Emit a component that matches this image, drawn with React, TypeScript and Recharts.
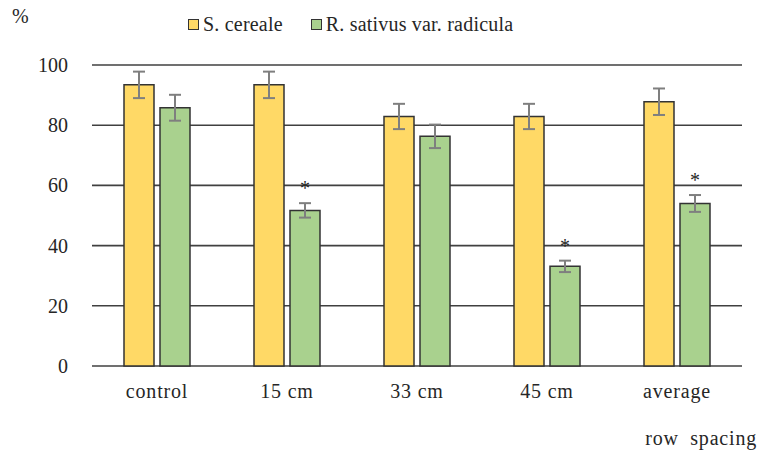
import React from 'react';
import { BarChart, Bar, XAxis, YAxis, CartesianGrid, ErrorBar, Legend, LabelList } from 'recharts';

const categories = ['control', '15 cm', '33 cm', '45 cm', 'average'];
const cerealeValues = [93.4, 93.4, 82.9, 82.9, 87.8];
const cerealeErrors = [4.4, 4.4, 4.2, 4.2, 4.4];
const sativusValues = [85.8, 51.7, 76.3, 33.1, 54.0];
const sativusErrors = [4.3, 2.4, 3.9, 1.9, 2.8];
const sativusSignificant = [false, true, false, true, true];
const yTicks = [0, 20, 40, 60, 80, 100];

const SERIES = [
  { key: 'cereale', name: 'S. cereale', color: '#FFD966' },
  { key: 'sativus', name: 'R. sativus var. radicula', color: '#A9D18E' },
];

const data = categories.map((c, i) => ({
  category: c,
  cereale: cerealeValues[i],
  cerealeErr: cerealeErrors[i],
  sativus: sativusValues[i],
  sativusErr: sativusErrors[i],
  sig: sativusSignificant[i] ? '*' : '',
}));

const FONT = '"Liberation Serif", "Times New Roman", serif';
const TEXT = '#262626';

const AsteriskLabel = (props: any) => {
  const { x, y, width, height, index } = props;
  const d = data[index];
  if (!d || !d.sig) return null;
  const pxPerUnit = height / d.sativus;
  const errTop = y - d.sativusErr * pxPerUnit;
  const cy = errTop - 18;
  return (
    <text x={x + width / 2} y={cy + 10} textAnchor="middle" fontFamily={FONT} fontSize={20} fill={TEXT}>
      *
    </text>
  );
};

const renderLegend = () => (
  <div style={{ display: 'flex', alignItems: 'center', paddingLeft: 188, fontFamily: FONT, fontSize: 20, color: TEXT, letterSpacing: 0.2 }}>
    {SERIES.map((s, i) => (
      <div key={s.key} style={{ display: 'flex', alignItems: 'center', marginRight: i === 0 ? 28 : 0 }}>
        <span style={{ display: 'inline-block', width: 9, height: 9, background: s.color, border: '1.5px solid #333', marginRight: 4 }} />
        <span>{s.name}</span>
      </div>
    ))}
  </div>
);

const XTick = (props: any) => {
  const { x, y, payload } = props;
  return (
    <text x={x} y={y} dy={14.2} textAnchor="middle" fontFamily={FONT} fontSize={20} fill={TEXT} letterSpacing={0.8}>
      {payload.value}
    </text>
  );
};

const YTick = (props: any) => {
  const { x, y, payload } = props;
  return (
    <text x={x} y={y} dy={7} textAnchor="end" fontFamily={FONT} fontSize={20} fill={TEXT}>
      {payload.value}
    </text>
  );
};

export default function App() {
  return (
    <div style={{ position: 'absolute', left: 0, top: 0, width: 761, height: 453, background: '#fff' }}>
      <BarChart
        width={761}
        height={453}
        data={data}
        margin={{ top: 42, right: 19, bottom: 47, left: 32 }}
        barSize={30}
        barGap={6}
      >
        <CartesianGrid vertical={false} stroke="#404040" strokeWidth={1.6} />
        <XAxis
          dataKey="category"
          axisLine={false}
          tickLine={false}
          tickSize={0}
          tickMargin={18}
          height={40}
          tick={<XTick />}
          interval={0}
          label={{
            content: (p: any) => {
              const vb = p.viewBox;
              return (
                <text x={vb.x + vb.width + 15} y={445} textAnchor="end" fontFamily={FONT} fontSize={20} fill={TEXT} letterSpacing={0.8}>
                  {'row\u00a0 spacing'}
                </text>
              );
            },
          }}
        />
        <YAxis
          domain={[0, 100]}
          ticks={yTicks}
          axisLine={false}
          tickLine={false}
          tickSize={0}
          tickMargin={24}
          width={60}
          tick={<YTick />}
          label={{
            content: () => (
              <text x={12} y={23} fontFamily={FONT} fontSize={20} fill={TEXT}>
                %
              </text>
            ),
          }}
        />
        <Legend verticalAlign="top" align="left" content={renderLegend} wrapperStyle={{ top: 13, left: 0, width: 761 }} />
        <Bar dataKey="cereale" name={SERIES[0].name} fill={SERIES[0].color} stroke="#333" strokeWidth={1.5} isAnimationActive={false}>
          <ErrorBar dataKey="cerealeErr" width={6} stroke="#7f7f7f" strokeWidth={2} direction="y" />
        </Bar>
        <Bar dataKey="sativus" name={SERIES[1].name} fill={SERIES[1].color} stroke="#333" strokeWidth={1.5} isAnimationActive={false}>
          <ErrorBar dataKey="sativusErr" width={6} stroke="#7f7f7f" strokeWidth={2} direction="y" />
          <LabelList dataKey="sig" content={<AsteriskLabel />} />
        </Bar>
      </BarChart>
    </div>
  );
}
